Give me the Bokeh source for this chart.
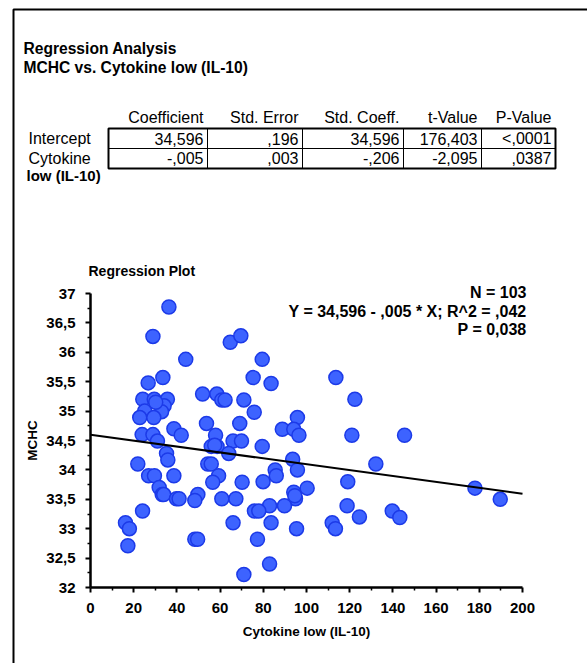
from bokeh.plotting import figure
from bokeh.models import Label, PolyAnnotation, Range1d, FixedTicker
from bokeh.embed import file_html
from bokeh.resources import INLINE

# ---- data -------------------------------------------------------------
cytokine = [36.3, 28.9, 64.7, 69.6, 44.1, 79.5, 33.5, 26.7, 75.3, 83.6,
            113.6, 51.9, 58.5, 60.8, 62.3, 71.0, 122.4, 24.2, 29.5, 35.6,
            34.1, 25.1, 32.9, 22.8, 29.3, 75.8, 95.8, 53.7, 69.1, 38.6,
            88.8, 94.1, 42.0, 23.9, 28.9, 57.9, 96.5, 121.0, 145.4, 31.0,
            66.0, 69.9, 55.9, 58.6, 79.5, 64.0, 35.2, 35.8, 93.6, 21.9,
            54.3, 55.9, 132.1, 85.5, 95.8, 26.9, 29.6, 38.6, 59.3, 86.0,
            56.6, 70.2, 79.9, 119.1, 31.8, 100.3, 178.0, 33.2, 33.9, 49.7,
            94.1, 39.8, 41.0, 48.3, 60.8, 67.3, 94.9, 189.7, 89.8, 82.9,
            118.8, 75.9, 77.9, 24.1, 139.7, 124.5, 143.2, 16.2, 66.0, 83.6,
            111.9, 18.0, 95.4, 113.4, 17.3, 48.3, 49.6, 77.3, 82.9, 71.0,
            30.2, 57.5, 94.6]
mchc = [36.77, 36.27, 36.17, 36.28, 35.88, 35.88, 35.57, 35.48, 35.57, 35.47,
        35.57, 35.29, 35.29, 35.19, 35.19, 35.19, 35.20, 35.20, 35.20, 35.20,
        35.09, 35.00, 34.99, 34.89, 34.89, 34.98, 34.89, 34.79, 34.79, 34.70,
        34.69, 34.69, 34.59, 34.60, 34.60, 34.59, 34.59, 34.59, 34.59, 34.49,
        34.49, 34.49, 34.40, 34.40, 34.40, 34.28, 34.28, 34.17, 34.18, 34.10,
        34.10, 34.10, 34.10, 34.00, 34.00, 33.90, 33.90, 33.90, 33.90, 33.90,
        33.79, 33.79, 33.80, 33.80, 33.70, 33.69, 33.69, 33.58, 33.58, 33.58,
        33.62, 33.51, 33.51, 33.48, 33.51, 33.51, 33.51, 33.50, 33.39, 33.39,
        33.39, 33.30, 33.30, 33.30, 33.30, 33.20, 33.19, 33.10, 33.10, 33.10,
        33.10, 33.00, 33.00, 33.00, 32.71, 32.82, 32.82, 32.82, 32.40, 32.22,
        35.15, 34.42, 33.56]

intercept = 34.596
slope = -0.005
fit_x = [0, 200]

x_ticks = [0, 20, 40, 60, 80, 100, 120, 140, 160, 180, 200]
x_minor = [10, 30, 50, 70, 90, 110, 130, 150, 170, 190]
y_ticks = [32, 32.5, 33, 33.5, 34, 34.5, 35, 35.5, 36, 36.5, 37]
y_tick_labels = ["32", "32,5", "33", "33,5", "34", "34,5", "35", "35,5",
                 "36", "36,5", "37"]
y_minor = [32.25, 32.75, 33.25, 33.75, 34.25, 34.75, 35.25, 35.75, 36.25, 36.75]

table_columns = ["Coefficient", "Std. Error", "Std. Coeff.", "t-Value", "P-Value"]
table_rows = ["Intercept", "Cytokine"]
row_intercept = ["34,596", ",196", "34,596", "176,403", "<,0001"]
row_cytokine = ["-,005", ",003", "-,206", "-2,095", ",0387"]

stats_lines = ["N = 103", "Y = 34,596 - ,005 * X; R^2 = ,042", "P = 0,038"]

# ---- layout (canvas pixels) ------------------------------------------
W, H = 587, 663
# pixel box occupied by the data window x 0..200, y 32..37
AX_L, AX_R, AX_T, AX_B = 90, 522, 293, 587
X0, X1, Y0, Y1 = 0, 200, 32, 37
FONT = "Liberation Sans"

# the frame spans the whole canvas; the axes sit at fixed data locations
kx = (X1 - X0) / (AX_R - AX_L)
ky = (Y1 - Y0) / (AX_B - AX_T)
x_range = Range1d(X0 - AX_L * kx, X1 + (W - AX_R) * kx)
y_range = Range1d(Y0 - (H - AX_B) * ky, Y1 + AX_T * ky)

p = figure(width=W, height=H, x_range=x_range, y_range=y_range,
           output_backend="svg", toolbar_location=None,
           min_border_left=0, min_border_right=0,
           min_border_top=0, min_border_bottom=0)
p.outline_line_color = None
p.grid.visible = False
p.background_fill_color = "white"
p.border_fill_color = "white"

# scatter + fitted line
p.scatter(cytokine, mchc, size=14, fill_color="#3d63ff", line_color="#1c3ae8",
          line_width=1.5)
p.line(fit_x, [intercept + slope * v for v in fit_x], line_color="black",
       line_width=2)

# axes
p.xaxis.fixed_location = Y0
p.yaxis.fixed_location = X0
p.xaxis.bounds = (X0, X1)
p.yaxis.bounds = (Y0, Y1)
p.xaxis.ticker = FixedTicker(ticks=x_ticks, minor_ticks=x_minor)
p.yaxis.ticker = FixedTicker(ticks=y_ticks, minor_ticks=y_minor)
p.yaxis.major_label_overrides = {t: s for t, s in zip(y_ticks, y_tick_labels)}
for ax in (p.xaxis[0], p.yaxis[0]):
    ax.axis_line_width = 2.5
    ax.major_tick_in = 0
    ax.major_tick_out = 5
    ax.minor_tick_in = 0
    ax.minor_tick_out = 3
    ax.major_tick_line_width = 2
    ax.minor_tick_line_width = 1.5
    ax.major_label_text_font = FONT
    ax.major_label_text_font_style = "bold"
    ax.major_label_text_font_size = "15px"
    ax.major_label_text_color = "black"
    ax.axis_label_text_font = FONT
    ax.axis_label_text_font_style = "bold"
    ax.axis_label_text_font_size = "13.5px"
    ax.axis_label_text_color = "black"
p.xaxis.axis_label = "Cytokine low (IL-10)"
p.yaxis.axis_label = "MCHC"
p.xaxis.major_label_standoff = 10
p.xaxis.axis_label_standoff = 8
p.yaxis.major_label_standoff = 10
p.yaxis.axis_label_standoff = 3


def put(text, X, Y, align="left", size="16px", bold=False):
    p.add_layout(Label(x=X, y=H - Y, x_units="screen", y_units="screen",
                       text=text, text_align=align, text_baseline="middle",
                       text_font=FONT, text_font_size=size,
                       text_font_style="bold" if bold else "normal",
                       text_color="black"))


def box(x0, y0, x1, y1, width=1):
    p.add_layout(PolyAnnotation(xs=[x0, x1, x1, x0],
                                ys=[H - y0, H - y0, H - y1, H - y1],
                                xs_units="screen", ys_units="screen",
                                fill_alpha=0, line_color="black",
                                line_alpha=1.0, line_width=width))


# page frame
box(13, 9, 700, 800, width=2)

# headings
put("Regression Analysis", 23, 48, size="15.6px", bold=True)
put("MCHC vs. Cytokine low (IL-10)", 23, 67, size="15.6px", bold=True)

# coefficient table
col_edges = [108, 207, 302, 403, 481, 555]
row_edges = [128, 148, 168]
for i in range(len(table_columns)):
    for j in range(2):
        box(col_edges[i], row_edges[j], col_edges[i + 1], row_edges[j + 1])
box(col_edges[0], row_edges[0], col_edges[-1], row_edges[-1], width=2)

for i, name in enumerate(table_columns):
    put(name, col_edges[i + 1] - 4, 117, align="right")
for i, v in enumerate(row_intercept):
    put(v, col_edges[i + 1] - 4, 138, align="right")
for i, v in enumerate(row_cytokine):
    put(v, col_edges[i + 1] - 4, 157.5, align="right")
put(table_rows[0], 28, 138)
put(table_rows[1], 28, 157.5)
put("low (IL-10)", 26, 175, size="15px", bold=True)

# plot heading and statistics
put("Regression Plot", 88, 270, size="14px", bold=True)
for k, s in enumerate(stats_lines):
    put(s, 526, 292 + 18.5 * k, align="right", size="16px", bold=True)

open("out.html", "w").write(file_html(p, INLINE))
